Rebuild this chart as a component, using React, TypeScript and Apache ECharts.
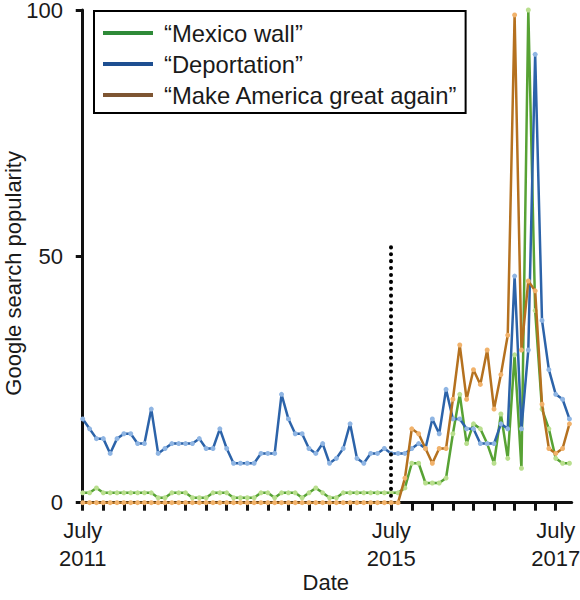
import React, { useEffect, useRef } from "react";
import * as echarts from "echarts";

// Monthly Google Trends popularity, index 0 = July 2011
const mexicoWall = [
  2, 2, 3, 2, 2, 2, 2, 2, 2, 2, 2, 1, 1, 2, 2, 2, 1, 1, 1, 2, 2, 2, 1, 1, 1, 1, 2, 2, 1, 2, 2, 2, 1, 2, 3, 2,
  1, 1, 2, 2, 2, 2, 2, 2, 2, 2, 2, 3, 8, 8, 4, 4, 4, 5, 14, 22, 12, 16, 15, 12, 8, 18, 9, 30, 7, 100, 39, 19,
  15, 9, 8, 8,
];
const deportation = [
  17, 15, 13, 13, 10, 13, 14, 14, 12, 12, 19, 10, 11, 12, 12, 12, 12, 13, 11, 11, 15, 11, 8, 8, 8, 8, 10, 10,
  10, 22, 17, 14, 14, 11, 10, 12, 8, 9, 11, 16, 9, 8, 10, 10, 11, 10, 10, 10, 11, 12, 11, 17, 14, 23, 17, 17,
  15, 15, 12, 12, 12, 16, 15, 46, 15, 31, 91, 37, 27, 22, 21, 17,
];
const makeAmericaGreat = [
  0, 0, 0, 0, 0, 0, 0, 0, 0, 0, 0, 0, 0, 0, 0, 0, 0, 0, 0, 0, 0, 0, 0, 0, 0, 0, 0, 0, 0, 0, 0, 0, 0, 0, 0, 0,
  0, 0, 0, 0, 0, 0, 0, 0, 0, 0, 0, 5, 15, 14, 11, 8, 11, 11, 21, 32, 21, 27, 24, 31, 19, 26, 34, 99, 31, 45,
  43, 20, 11, 10, 11, 16,
];
const seriesNames = ["\u201cMexico wall\u201d", "\u201cDeportation\u201d", "\u201cMake America great again\u201d"];
const xTickValues = [0, 3, 6, 9, 12, 15, 18, 21, 24, 27, 30, 33, 36, 39, 42, 45, 48, 51, 54, 57, 60, 63, 66, 69];
const xLabelValues = [0, 45, 69];
const xLabelTexts = ["July\n2011", "July\n2015", "July\n2017"];
const yTicks = [0, 50, 100];
const eventIndex = 45;
const eventLineTop = 53;

const FONT = "'Liberation Sans', Arial, Helvetica, sans-serif";
const TEXT = "#1a1a1a";

const lineColors = ["#57a234", "#2c63a9", "#b5711f"];
const markerColors = ["#b9df8e", "#8fb5e3", "#f1b26b"];
const legendColors = ["#2e8a38", "#1e4f91", "#7e5532"];

export default function App() {
  const ref = useRef<HTMLDivElement>(null);
  useEffect(() => {
    if (!ref.current) return;
    const chart = echarts.init(ref.current, null, { renderer: "svg" });
    const datasets = [mexicoWall, deportation, makeAmericaGreat];
    const series: any[] = datasets.map((vals, s) => ({
      name: seriesNames[s],
      type: "line",
      data: vals.map((v, i) => [i, v]),
      symbol: "circle",
      symbolSize: 5,
      showSymbol: true,
      lineStyle: { color: lineColors[s], width: 2.5 },
      itemStyle: { color: markerColors[s], borderWidth: 0 },
      emphasis: { disabled: true },
      z: 3 + s,
    }));
    series[0].markLine = {
      silent: true,
      symbol: "none",
      label: { show: false },
      lineStyle: { color: "#000", width: 4, type: [0.1, 6.8], cap: "round" },
      data: [[{ coord: [eventIndex, 0] }, { coord: [eventIndex, eventLineTop] }]],
    };
    chart.setOption({
      animation: false,
      textStyle: { fontFamily: FONT, color: TEXT },
      grid: { left: 80, right: 8.3, top: 10, bottom: 97.3, outerBoundsMode: "none" },
      legend: {
        orient: "vertical",
        left: 94,
        top: 11,
        padding: [9, 8, 5, 9],
        borderColor: "#000",
        borderWidth: 2,
        itemWidth: 50,
        itemHeight: 4,
        itemGap: 5,
        textStyle: { fontSize: 23.8, color: TEXT, fontFamily: FONT, lineHeight: 26, padding: [0, 0, 0, 6] },
        data: seriesNames.map((n, s) => ({ name: n, icon: "rect", itemStyle: { color: legendColors[s] } })),
      },
      xAxis: {
        type: "value",
        min: -0.4,
        max: 71.33,
        name: "Date",
        nameLocation: "middle",
        nameGap: 69,
        nameMoveOverlap: false,
        nameTextStyle: { fontSize: 22, color: TEXT, fontFamily: FONT },
        splitLine: { show: false },
        axisLine: { show: true, lineStyle: { color: "#111", width: 3 } },
        axisTick: {
          show: true,
          length: 8,
          lineStyle: { color: "#111", width: 3 },
          customValues: xTickValues,
        },
        axisLabel: {
          customValues: xLabelValues,
          formatter: (v: number) => {
            const k = xLabelValues.indexOf(Math.round(v));
            return k >= 0 ? xLabelTexts[k] : "";
          },
          fontSize: 22,
          lineHeight: 28,
          color: TEXT,
          fontFamily: FONT,
          margin: 14,
        },
      },
      yAxis: {
        type: "value",
        min: 0,
        max: 100,
        interval: 50,
        name: "Google search popularity",
        nameLocation: "middle",
        nameGap: 56,
        nameMoveOverlap: false,
        nameTextStyle: { fontSize: 22, color: TEXT, fontFamily: FONT, padding: [0, 34, 0, 0] },
        splitLine: { show: false },
        axisLine: { show: true, lineStyle: { color: "#111", width: 3 } },
        axisTick: { show: true, length: 7, lineStyle: { color: "#111", width: 3 }, customValues: yTicks },
        axisLabel: {
          fontSize: 22,
          lineHeight: 15,
          padding: [4, 0, 0, 0],
          color: TEXT,
          fontFamily: FONT,
          margin: 17,
        },
      },
      series,
    });
    return () => chart.dispose();
  }, []);
  return (
    <div
      ref={ref}
      style={{ position: "fixed", left: 0, top: 0, width: 580, height: 600, background: "#fff" }}
    />
  );
}
